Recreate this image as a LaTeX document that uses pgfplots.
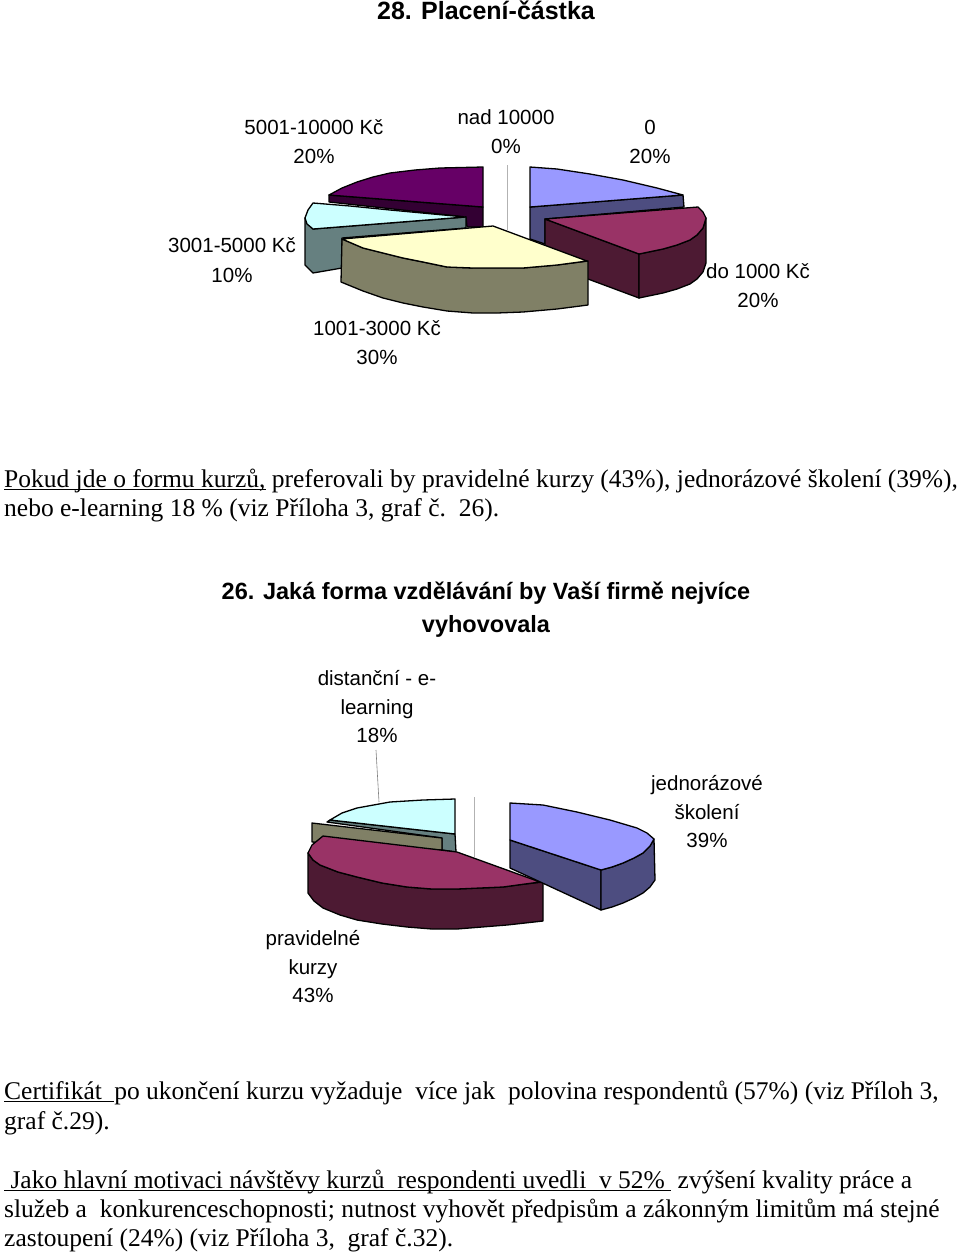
\documentclass[border=0pt]{standalone}
\usepackage{fontspec}
\setmainfont{Liberation Serif}
\newfontfamily\arial{Liberation Sans}
\usepackage{pgfplots}
\pgfplotsset{compat=1.18}
\definecolor{blueT}{HTML}{9999FF}\definecolor{blueS}{HTML}{4D4D80}
\definecolor{marT}{HTML}{993366}\definecolor{marS}{HTML}{4D1A33}
\definecolor{creT}{HTML}{FFFFCC}\definecolor{creS}{HTML}{808066}
\definecolor{cyaT}{HTML}{CCFFFF}\definecolor{cyaS}{HTML}{668080}
\definecolor{purT}{HTML}{660066}\definecolor{purS}{HTML}{330033}
\tikzset{
  lab/.style={anchor=base, inner sep=0pt, font=\arial\fontsize{20.5}{26}\selectfont},
  ttl/.style={anchor=base, inner sep=0pt, font=\arial\bfseries\fontsize{25}{29}\selectfont},
  ttlb/.style={anchor=base, inner sep=0pt, font=\arial\bfseries\fontsize{23.5}{29}\selectfont},
  txt/.style={anchor=base west, inner sep=0pt, font=\fontsize{25.5}{29}\selectfont},
}
% rule close under the baseline, as in the scan
\newcommand\ul[1]{\leavevmode\setbox0\hbox{#1}\rlap{\rule[-2.5pt]{\wd0}{1pt}}\box0 }
\begin{document}
\begin{tikzpicture}
\useasboundingbox (0,0) rectangle (960pt,1254pt);
\begin{axis}[
  at={(0,0)}, anchor=south west, scale only axis,
  width=960pt, height=1254pt,
  xmin=0, xmax=960, ymin=0, ymax=1254,
  y dir=reverse, hide axis, clip=false,
  every axis plot/.append style={draw=black, line width=1.3pt, line join=round, mark=none},
]
% first pie, 28. Placeni-castka
\addplot[fill=purS] coordinates {(329,195) (483,207) (483,227) (467,227) (466,217) (329,202)} -- cycle;
\addplot[fill=purT] coordinates {(483,167) (483,207) (329,195) (342,188) (357,182) (373,177) (390,173) (415,170) (440,168)} -- cycle;
\addplot[draw=gray!60, line width=1pt] coordinates {(507,165) (507,230)};
\addplot[fill=blueS] coordinates {(530,207) (683,195) (684,207) (545,219) (545,244) (530,239)} -- cycle;
\addplot[fill=blueT] coordinates {(530,167) (557,169) (590,174) (623,180) (657,188) (683,195) (530,207)} -- cycle;
\addplot[fill=cyaS] coordinates {(313,229) (466,217) (466,228) (342,238) (342,268) (313,273) (305,265) (305,218)} -- cycle;
\addplot[fill=cyaT] coordinates {(465,217) (313,229) (307,224) (305,218) (308,210) (313,203) (350,206) (390,210)} -- cycle;
\addplot[fill=marS] coordinates {(545,219) (639,254) (639,298) (545,263)} -- cycle;
\addplot[fill=marS] coordinates {(639,254) (663,249) (677,245) (690,240) (697,235) (703,228) (706,218) (706,263) (703,272) (697,279) (690,284) (677,289) (663,293) (639,298)} -- cycle;
\addplot[fill=marT] coordinates {(545,219) (698,207) (703,212) (706,218) (703,228) (697,235) (690,240) (677,245) (663,249) (639,254)} -- cycle;
\addplot[fill=creS] coordinates {(342,239) (363,248) (383,253) (403,258) (423,262) (447,267) (473,268) (497,268) (523,268) (557,265) (588,261) (588,305) (557,309) (523,312) (497,313) (473,313) (447,311) (423,307) (403,303) (383,298) (363,291) (341,282)} -- cycle;
\addplot[fill=creT] coordinates {(493,226) (587,261) (557,265) (523,268) (497,268) (473,268) (447,267) (423,262) (403,258) (383,253) (363,248) (342,239)} -- cycle;
% second pie, 26. forma vzdelavani
\addplot[fill=cyaS] coordinates {(330,820) (455,834) (456,852) (442,850) (442,838) (327,822)} -- cycle;
\addplot[fill=cyaT] coordinates {(455,799) (455,834) (330,820) (342,813) (357,808) (390,802) (423,800)} -- cycle;
\addplot[fill=creS] coordinates {(312,823) (442,838) (442,850) (312,842)} -- cycle;
\addplot[draw=gray!60, line width=1pt] coordinates {(474,797) (474,857)};
\addplot[draw=gray, line width=0.6pt] coordinates {(376,750) (379,802)};
\addplot[fill=marS] coordinates {(308,853) (313,860) (320,865) (338,872) (357,877) (382,883) (407,887) (432,889) (457,889) (480,888) (503,887) (525,884) (543,882) (543,921) (507,925) (482,927) (457,929) (432,929) (407,927) (382,924) (357,920) (340,915) (323,908) (314,901) (308,893)} -- cycle;
\addplot[fill=marT] coordinates {(323,836) (457,852) (540,882) (525,884) (503,887) (480,888) (457,889) (432,889) (407,887) (382,883) (357,877) (338,872) (320,865) (313,860) (308,853) (312,845)} -- cycle;
\addplot[fill=blueS] coordinates {(510,840) (601,870) (601,910) (510,868)} -- cycle;
\addplot[fill=blueS] coordinates {(601,870) (612,867) (623,863) (634,858) (643,853) (650,846) (654,839) (655,880) (650,887) (643,893) (634,898) (623,903) (612,907) (601,910)} -- cycle;
\addplot[fill=blueT] coordinates {(510,803) (543,805) (577,812) (610,820) (637,828) (647,833) (654,839) (650,846) (643,853) (634,858) (623,863) (612,867) (601,870) (510,840)} -- cycle;
% labels
\node[ttl] at (axis cs:486,19) {28. Placení-částka};
\node[lab] at (axis cs:314,134) {5001-10000 Kč};
\node[lab] at (axis cs:314,163) {20\%};
\node[lab] at (axis cs:506,124) {nad 10000};
\node[lab] at (axis cs:506,153) {0\%};
\node[lab] at (axis cs:650,134) {0};
\node[lab] at (axis cs:650,163) {20\%};
\node[lab] at (axis cs:232,252) {3001-5000 Kč};
\node[lab] at (axis cs:232,282) {10\%};
\node[lab] at (axis cs:758,278) {do 1000 Kč};
\node[lab] at (axis cs:758,307) {20\%};
\node[lab] at (axis cs:377,335) {1001-3000 Kč};
\node[lab] at (axis cs:377,364) {30\%};
\node[ttlb] at (axis cs:486,599) {26. Jaká forma vzdělávání by Vaší firmě nejvíce};
\node[ttlb] at (axis cs:486,632) {vyhovovala};
\node[lab] at (axis cs:377,685) {distanční - e-};
\node[lab] at (axis cs:377,714) {learning};
\node[lab] at (axis cs:377,742) {18\%};
\node[lab] at (axis cs:707,790) {jednorázové};
\node[lab] at (axis cs:707,819) {školení};
\node[lab] at (axis cs:707,847) {39\%};
\node[lab] at (axis cs:313,945) {pravidelné};
\node[lab] at (axis cs:313,974) {kurzy};
\node[lab] at (axis cs:313,1002) {43\%};
% body text
\node[txt] at (axis cs:4,487) {\ul{Pokud jde o formu kurzů,}\ preferovali by pravidelné kurzy (43\%), jednorázové školení (39\%),};
\node[txt] at (axis cs:4,516) {nebo e-learning 18 \% (viz Příloha 3, graf č.\ \ 26).};
\node[txt] at (axis cs:4,1099) {\ul{Certifikát\ \hspace{6pt}}po ukončení kurzu vyžaduje\ \ více jak\ \ polovina respondentů (57\%) (viz Příloh 3,};
\node[txt] at (axis cs:4,1129) {graf č.29).};
\node[txt] at (axis cs:4,1188) {\ul{\ Jako hlavní motivaci návštěvy kurzů\ \ respondenti uvedli\ \ v 52\%\ }\ zvýšení kvality práce a};
\node[txt] at (axis cs:4,1217) {služeb a\ \ konkurenceschopnosti; nutnost vyhovět předpisům a zákonným limitům má stejné};
\node[txt] at (axis cs:4,1246) {zastoupení (24\%) (viz Příloha 3,\ \ graf č.32).};
\end{axis}
\end{tikzpicture}
\end{document}
